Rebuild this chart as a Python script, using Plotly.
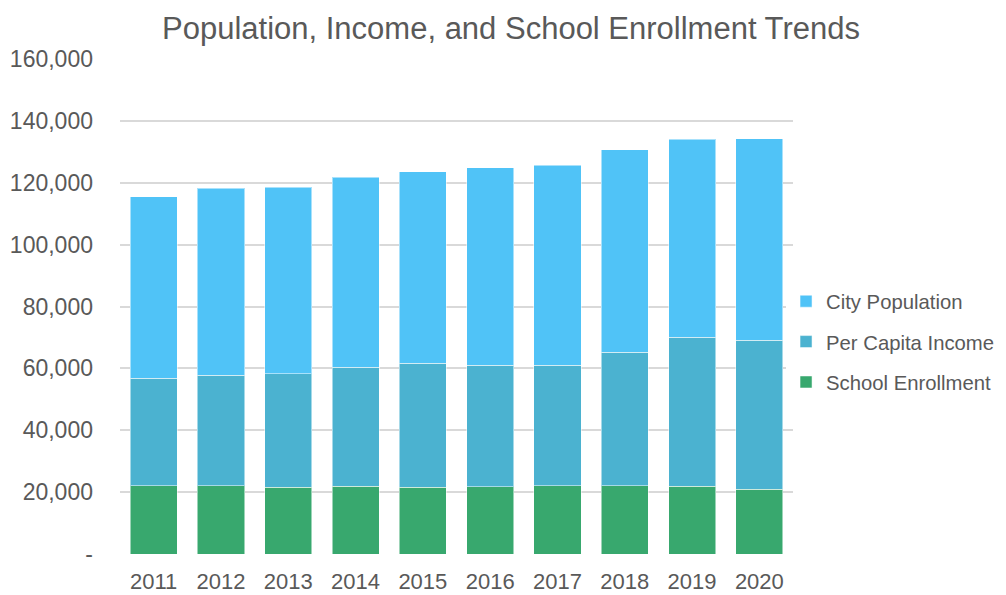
import plotly.graph_objects as go

years = ["2011", "2012", "2013", "2014", "2015", "2016", "2017", "2018", "2019", "2020"]
school_enrollment = [22000, 22000, 21600, 21900, 21600, 21700, 22100, 22000, 21900, 20900]
per_capita_income = [34800, 35800, 36600, 38500, 40000, 39300, 38900, 43200, 48100, 48200]
city_population = [58600, 60500, 60400, 61400, 61900, 63800, 64700, 65400, 64100, 65100]

tick_vals = [0, 20000, 40000, 60000, 80000, 100000, 120000, 140000, 160000]
tick_text = ["-", "20,000", "40,000", "60,000", "80,000", "100,000", "120,000", "140,000", "160,000"]

font_family = "Liberation Sans, Arial, sans-serif"
text_color = "#595959"

fig = go.Figure()
series = [
    ("School Enrollment", school_enrollment, "#38A86E", 3),
    ("Per Capita Income", per_capita_income, "#4BB2D0", 2),
    ("City Population", city_population, "#50C3F7", 1),
]
for i, (name, vals, color, rank) in enumerate(series):
    fig.add_trace(go.Bar(
        x=years, y=vals, name=name, legendgroup=str(i), legendrank=rank,
        marker=dict(color=color, line=dict(color="rgba(255,255,255,0.5)", width=1)),
    ))

fig.update_layout(
    barmode="stack",
    bargap=0.3,
    width=998, height=587,
    margin=dict(l=112, r=213, t=51, b=41, autoexpand=False),
    paper_bgcolor="white", plot_bgcolor="white",
    font=dict(family=font_family, color=text_color, size=21),
    title=dict(text="Population, Income, and School Enrollment Trends",
               x=0.504, xanchor="center", y=0.966, yanchor="middle",
               font=dict(size=31, color=text_color)),
    legend=dict(xref="container", yref="container",
                x=0.7796, xanchor="left", y=0.431, yanchor="middle",
                traceorder="grouped", tracegroupgap=11,
                font=dict(size=20.3, color=text_color)),
    showlegend=True,
)
fig.update_yaxes(range=[0, 160000], tickvals=tick_vals, ticktext=tick_text,
                 showgrid=True, gridcolor="#D9D9D9", gridwidth=1.5,
                 zeroline=False, showline=False, automargin=False,
                 tickfont=dict(size=23, color=text_color),
                 ticks="", ticklabelstandoff=26)
fig.update_xaxes(showgrid=False, showline=False, zeroline=False, automargin=False,
                 tickfont=dict(size=22, color=text_color), ticks="",
                 ticklabelstandoff=12)

fig.write_html("out.html")
